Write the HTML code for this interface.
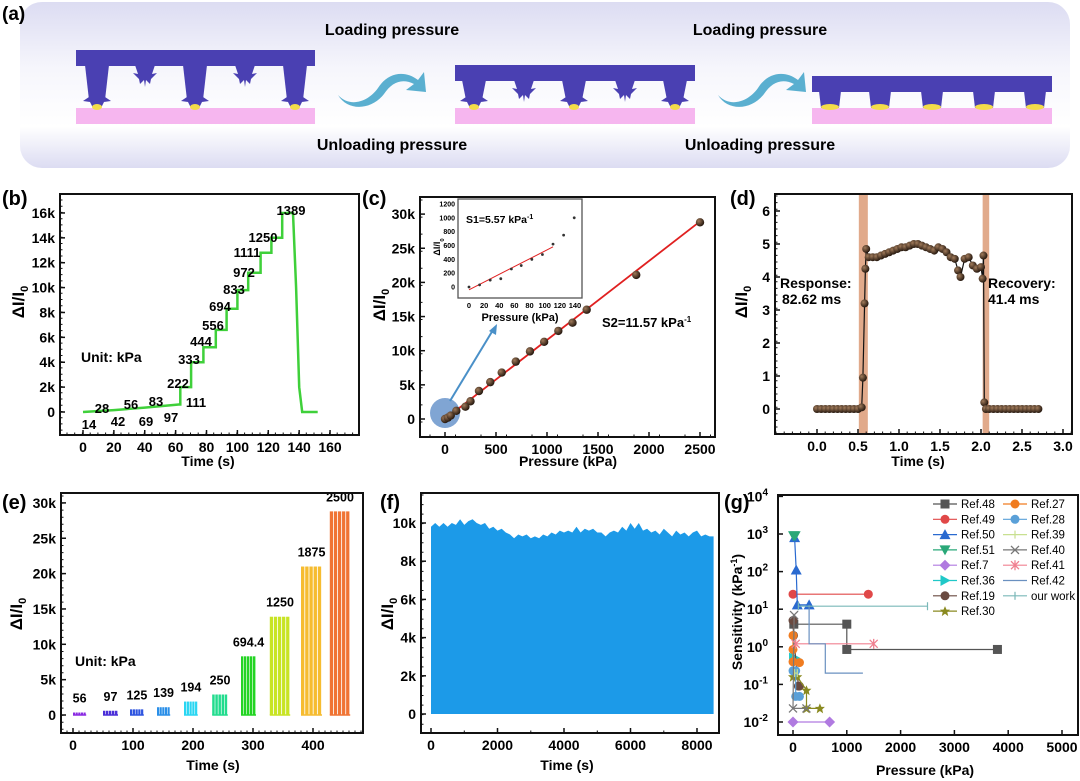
<!DOCTYPE html>
<html><head><meta charset="utf-8">
<style>
html,body{margin:0;padding:0;background:#fff;}
svg{display:block;font-family:"Liberation Sans",Arial,sans-serif;font-weight:bold;}
</style></head>
<body>
<svg id="fig" width="1080" height="781" viewBox="0 0 1080 781">
<defs>
<linearGradient id="bgA" x1="0" y1="0" x2="0" y2="1">
<stop offset="0" stop-color="#dcdcf2"/><stop offset="0.4" stop-color="#f6f6fc"/><stop offset="0.75" stop-color="#ffffff"/><stop offset="1" stop-color="#dcdcf2"/>
</linearGradient>
<radialGradient id="ball" cx="0.35" cy="0.35" r="0.7"><stop offset="0" stop-color="#a07a5a"/><stop offset="1" stop-color="#1e120a"/></radialGradient>
</defs>
<g id="panelA">
<rect x="20" y="2" width="1050" height="166" rx="22" fill="url(#bgA)"/>
<text x="2" y="20" font-size="19">(a)</text>
<text x="392" y="35" font-size="16" text-anchor="middle">Loading pressure</text>
<text x="760" y="35" font-size="16" text-anchor="middle">Loading pressure</text>
<text x="392" y="150" font-size="16" text-anchor="middle">Unloading pressure</text>
<text x="760" y="150" font-size="16" text-anchor="middle">Unloading pressure</text>
<path d="M338,95 C350,108 368,102 378,88 C388,72 405,70 418,80 L424,72 L426,92 L406,90 L414,84 C402,78 392,82 384,94 C372,110 348,112 338,95 Z" fill="#5aafd0"/>
<path d="M718,95 C730,108 748,102 758,88 C768,72 785,70 798,80 L804,72 L806,92 L786,90 L794,84 C782,78 772,82 764,94 C752,110 728,112 718,95 Z" fill="#5aafd0"/>
</g>
<g id="plots"></g>
</svg>
<script>
const NS='http://www.w3.org/2000/svg';
const svg=document.getElementById('plots');
function el(tag,attrs,name,parent){const e=document.createElementNS(NS,tag);for(const k in attrs)e.setAttribute(k,attrs[k]);


(parent||svg).appendChild(e);return e;}
function txt(x,y,s,name,size,anchor,extra){const t=el('text',Object.assign({x:x,y:y,'font-size':size||13,'text-anchor':anchor||'start'},extra||{}),name);t.textContent=s;return t;}
function frame(x0,y0,x1,y1,name){el('rect',{x:x0,y:y0,width:x1-x0,height:y1-y0,fill:'none',stroke:'#111','stroke-width':2},name);}
function xTicks(vals,labels,sx,yb,name,size){vals.forEach((v,i)=>{const x=sx(v);el('line',{x1:x,x2:x,y1:yb,y2:yb-5,stroke:'#111','stroke-width':1.5},name+'-tick');txt(x,yb+17,labels[i],name+'-label',size||14,'middle');});}
function yTicks(vals,labels,sy,xl,name,size){vals.forEach((v,i)=>{const y=sy(v);el('line',{x1:xl,x2:xl+5,y1:y,y2:y,stroke:'#111','stroke-width':1.5},name+'-tick');txt(xl-5,y+5,labels[i],name+'-label',size||14,'end');});}
function minorX(x0,x1,step,yb,name){let d='';for(let x=x0;x<=x1;x+=step)d+=`M${x.toFixed(1)},${yb} v-2.5 `;el('path',{d:d,stroke:'#111','stroke-width':1},name);}
function minorY(y0,y1,step,xl,name){let d='';for(let y=y0;y<=y1;y+=step)d+=`M${xl},${y.toFixed(1)} h2.5 `;el('path',{d:d,stroke:'#111','stroke-width':1},name);}
function dIlabel(x,y,name,size){const t=el('text',{x:x,y:y,'font-size':size||16,'text-anchor':'middle',transform:'rotate(-90 '+x+' '+y+')'},name);t.appendChild(document.createTextNode('ΔI/I'));const s=document.createElementNS(NS,'tspan');s.setAttribute('font-size',(size||16)*0.65);s.setAttribute('dy','4');s.textContent='0';t.appendChild(s);return t;}
function poly(pts,attrs,name){return el('polyline',Object.assign({points:pts.map(p=>p[0].toFixed(1)+','+p[1].toFixed(1)).join(' '),fill:'none'},attrs),name);}

/* ---------- Panel (a) structures ---------- */
(function(){
const g=document.getElementById('panelA');
const C='#4a40b2';
function struct(x0,x1,topY,longs,shorts,spiky,name){
 el('rect',{x:x0,y:topY,width:x1-x0,height:16,fill:C},name+'-top-layer',g);
 el('rect',{x:x0,y:108,width:x1-x0,height:16,fill:'#f6b6ef'},name+'-bottom-layer',g);
 longs.forEach(c=>{
  const tw=spiky?12:11, bw=spiky?7:8;
  el('path',{d:`M${c-tw},${topY+15} L${c+tw},${topY+15} L${c+bw+1},${spiky?100:108} L${c+4},${spiky?108:108} L${c-4},108 L${c-bw-1},${spiky?100:108} Z`,fill:C},name+'-pillar',g);
  if(spiky)el('path',{d:`M${c-8},${97} l-6,4 l7,1 Z M${c+8},97 l6,4 l-7,1 Z`,fill:C},name+'-spike',g);
  el('ellipse',{cx:c,cy:107,rx:spiky?5:9,ry:3,fill:'#f3dc4a'},name+'-contact',g);});
 shorts.forEach(c=>{const b=topY+24;el('path',{d:`M${c-10},${topY+15} L${c+10},${topY+15} L${c+7},${b} L${c+12},${b-1} L${c+6},${b+5} L${c+5},${b+10} L${c+1},${b+6} L${c},${b+13} L${c-1},${b+6} L${c-5},${b+10} L${c-6},${b+5} L${c-12},${b-1} L${c-7},${b} Z`,fill:C},name+'-short-pillar',g);});
}
struct(76,315,50,[97,195,295],[145,245],true,'state-1');
struct(455,695,65,[474,574,675],[524,625],true,'state-2');
struct(812,1052,76,[830,880,932,984,1035],[],false,'state-3');
})();

/* ---------- Panel (b) ---------- */
const bTime=[0,20,40,62,63,63,70,70,78,78,86,86,93,93,100,100,107,107,115,115,122,122,129,129,136,138,140,142,152];
const bVal=[0,0.15,0.35,0.6,0.6,2.0,2.0,4.0,4.0,5.2,5.2,6.6,6.6,8.3,8.3,9.8,9.8,11.2,11.2,12.8,12.8,14.0,14.0,16.0,16.0,10,2,0,0];
const bXT=[0,20,40,60,80,100,120,140,160];
const bYT=[0,2,4,6,8,10,12,14,16];
const bYL=['0','2k','4k','6k','8k','10k','12k','14k','16k'];
(function(){
const sx=t=>83+t*1.544, sy=v=>412-v*12.44;
frame(60,194,359,435,'panel-b-frame');
minorX(67,359,7.72,435,'b-x-minor-ticks');minorY(200,435,6.22,60,'b-y-minor-ticks');
xTicks(bXT,bXT.map(String),sx,435,'b-x-axis');
yTicks(bYT,bYL,sy,60,'b-y-axis');
poly(bTime.map((t,i)=>[sx(t),sy(bVal[i])]),{stroke:'#3fd03a','stroke-width':2.5},'b-response-curve');
txt(2,205,'(b)','panel-b-label',20);
dIlabel(24,302,'b-y-title',17);
txt(208,466,'Time (s)','b-x-title',14,'middle');
txt(81,362,'Unit: kPa','b-unit-label',14);
[['14',89,429],['28',102,413],['42',118,426],['56',131,409],['69',146,426],['83',156,406],['97',171,422],['111',196,407],['222',178,388],['333',189,364],['444',201,346],['556',213,330],['694',220,311],['833',234,294],['972',244,277],['1111',247,257],['1250',263,242],['1389',291,215]].forEach(a=>txt(a[1],a[2],a[0],'b-pressure-label',13,'middle'));
})();

/* ---------- Panel (c) ---------- */
const cP=[0,28,56,111,200,250,333,444,556,694,833,972,1111,1250,1389,1875,2500];
const cV=[0,0.2,0.5,1.2,1.8,2.6,4.1,5.4,6.8,8.4,9.9,11.3,12.9,14.1,16.0,21.1,28.8];
const cXT=[0,500,1000,1500,2000,2500];
const cYT=[0,5,10,15,20,25,30];
const cYL=['0','5k','10k','15k','20k','25k','30k'];
const inP=[0,14,28,42,56,69,83,97,111,125,139];
const inV=[0,30,100,120,260,310,400,470,620,750,1000];
const inXT=[0,20,40,60,80,100,120,140];
const inYT=[0,200,400,600,800,1000,1200];
(function(){
const sx=p=>445+p*0.102, sy=v=>419-v*6.83;
frame(420,197,715,437,'panel-c-frame');
minorX(430,715,5.1*5,437,'c-x-minor-ticks');minorY(200,437,6.83*2.5,420,'c-y-minor-ticks');
xTicks(cXT,cXT.map(String),sx,437,'c-x-axis');
yTicks(cYT,cYL,sy,420,'c-y-axis');
el('line',{x1:sx(0),y1:sy(0),x2:sx(2500),y2:sy(2500*11.57/1000),stroke:'#e02020','stroke-width':1.8},'c-fit-line');
el('circle',{cx:445,cy:413,r:15,fill:'#4a7fc0','fill-opacity':0.7},'c-zoom-region');
el('line',{x1:450,y1:401,x2:493,y2:330,stroke:'#4a90c8','stroke-width':2},'c-zoom-arrow');
el('path',{d:'M497,324 l-1,11 l-7,-4 z',fill:'#4a90c8'},'c-zoom-arrowhead');
cP.forEach((p,i)=>el('circle',{cx:sx(p),cy:sy(cV[i]),r:4.2,fill:'url(#ball)'},'c-data-point'));
txt(362,205,'(c)','panel-c-label',20);
dIlabel(385,305,'c-y-title',17);
txt(568,466,'Pressure (kPa)','c-x-title',14,'middle');
const s2=txt(602,327,'S2=11.57 kPa','c-s2-label',13);const sp=document.createElementNS(NS,'tspan');sp.setAttribute('dy','-5');sp.setAttribute('font-size','8');sp.textContent='-1';s2.appendChild(sp);
// inset
el('rect',{x:458,y:199,width:124,height:99,fill:'#fff',stroke:'#555','stroke-width':1.3},'c-inset-frame');
const ix=p=>469+p*0.757, iy=v=>287-v*0.0692;
inXT.forEach(v=>txt(ix(v),308,String(v),'c-inset-x-label',7.5,'middle'));
inYT.forEach(v=>txt(455,iy(v)+2.5,String(v),'c-inset-y-label',7,'end'));
el('line',{x1:ix(0),y1:iy(-40),x2:ix(111),y2:iy(580),stroke:'#e02020','stroke-width':1},'c-inset-fit-line');
inP.forEach((p,i)=>el('circle',{cx:ix(p),cy:iy(inV[i]),r:1.4,fill:'#333'},'c-inset-point'));
const s1=txt(466,223,'S1=5.57 kPa','c-s1-label',10.5);const sp1=document.createElementNS(NS,'tspan');sp1.setAttribute('dy','-4');sp1.setAttribute('font-size','7');sp1.textContent='-1';s1.appendChild(sp1);
txt(520,321,'Pressure (kPa)','c-inset-x-title',11,'middle');
dIlabel(440,247,'c-inset-y-title',9);
})();

/* ---------- Panel (d) ---------- */
const dT=[0,0.05,0.1,0.15,0.2,0.25,0.3,0.35,0.4,0.45,0.5,0.545,0.56,0.58,0.59,0.6,0.63,0.68,0.73,0.78,0.83,0.88,0.93,0.98,1.03,1.08,1.13,1.18,1.23,1.28,1.33,1.38,1.43,1.48,1.53,1.58,1.63,1.68,1.72,1.75,1.8,1.85,1.9,1.95,2.0,2.02,2.03,2.04,2.06,2.1,2.15,2.2,2.25,2.3,2.35,2.4,2.45,2.5,2.55,2.6,2.65,2.7];
const dV=[0,0,0,0,0,0,0,0,0,0,0,0.05,0.95,3.2,4.25,4.85,4.6,4.6,4.6,4.65,4.7,4.75,4.8,4.85,4.9,4.9,4.95,5.0,5.0,4.95,4.9,4.85,4.8,4.9,4.85,4.75,4.6,4.55,4.2,4.0,4.55,4.6,4.35,4.25,4.3,3.95,4.65,0.2,0,0,0,0,0,0,0,0,0,0,0,0,0,0];
const dXT=[0,0.5,1,1.5,2,2.5,3];
const dYT=[0,1,2,3,4,5,6];
(function(){
const sx=t=>817+t*82, sy=v=>409-v*33;
el('rect',{x:sx(0.51),y:194,width:sx(0.62)-sx(0.51),height:240,fill:'#d9956e','fill-opacity':0.8},'d-response-band');
el('rect',{x:sx(2.02),y:194,width:sx(2.1)-sx(2.02),height:240,fill:'#d9956e','fill-opacity':0.8},'d-recovery-band');
frame(775,194,1072,434,'panel-d-frame');
minorX(776,1072,8.2,434,'d-x-minor-ticks');minorY(196,434,6.6,775,'d-y-minor-ticks');
xTicks(dXT,dXT.map(v=>v.toFixed(1)),sx,434,'d-x-axis');
yTicks(dYT,dYT.map(String),sy,775,'d-y-axis');
poly(dT.map((t,i)=>[sx(t),sy(dV[i])]),{stroke:'#111','stroke-width':1.2},'d-response-curve');
dT.forEach((t,i)=>el('circle',{cx:sx(t),cy:sy(dV[i]),r:4,fill:'url(#ball)'},'d-data-point'));
txt(730,205,'(d)','panel-d-label',20);
dIlabel(747,302,'d-y-title',17);
txt(918,466,'Time (s)','d-x-title',14,'middle');
txt(780,288,'Response:','d-response-label',14);
txt(782,304,'82.62 ms','d-response-value',14);
txt(988,288,'Recovery:','d-recovery-label',14);
txt(988,304,'41.4 ms','d-recovery-value',14);
})();

/* ---------- Panel (e) ---------- */
const eLabels=['56','97','125','139','194','250','694.4','1250','1875','2500'];
const eStart=[0,50,95,140,185,232,280,328,380,428];
const eEnd=[22,75,118,162,208,258,305,362,415,462];
const ePeak=[0.35,0.6,0.8,1.1,1.9,2.9,8.3,13.9,21.0,28.8];
const eColors=['#8a2be2','#4b2fd8','#2f55e0','#2a8fe8','#2ad6f2','#22dc8e','#22d422','#c8e424','#f6bc30','#f07434'];
const eXT=[0,100,200,300,400];
const eYT=[0,5,10,15,20,25,30];
const eYL=['0','5k','10k','15k','20k','25k','30k'];
(function(){
const sx=t=>73+t*0.6, sy=v=>715-v*7.07;
eStart.forEach((s,i)=>{
 const n=5, w=(eEnd[i]-s)/n;
 for(let k=0;k<n;k++){const x0=sx(s+k*w), x1=sx(s+k*w+w*0.8);
  el('rect',{x:x0,y:sy(ePeak[i]),width:x1-x0,height:sy(0)-sy(ePeak[i]),fill:eColors[i]},'e-spike-'+eLabels[i]);}
 el('line',{x1:sx(s),x2:sx(eEnd[i]),y1:sy(0),y2:sy(0),stroke:eColors[i],'stroke-width':1.5},'e-baseline-'+eLabels[i]);
 txt(sx((s+eEnd[i])/2),sy(ePeak[i])-10,eLabels[i],'e-pressure-label',12.5,'middle');
});
frame(61,493,363,733,'panel-e-frame');
minorX(67,363,6,733,'e-x-minor-ticks');minorY(496,733,7.07,61,'e-y-minor-ticks');
xTicks(eXT,eXT.map(String),sx,733,'e-x-axis',14);
yTicks(eYT,eYL,sy,61,'e-y-axis',14);
txt(2,509,'(e)','panel-e-label',20);
dIlabel(22,614,'e-y-title',17);
txt(213,770,'Time (s)','e-x-title',14,'middle');
txt(75,666,'Unit: kPa','e-unit-label',14);
})();

/* ---------- Panel (f) ---------- */
const fT=[0,125,250,375,500,625,750,875,1000,1125,1250,1375,1500,1625,1750,1875,2000,2125,2250,2375,2500,2625,2750,2875,3000,3125,3250,3375,3500,3625,3750,3875,4000,4125,4250,4375,4500,4625,4750,4875,5000,5125,5250,5375,5500,5625,5750,5875,6000,6125,6250,6375,6500,6625,6750,6875,7000,7125,7250,7375,7500,7625,7750,7875,8000,8125,8250,8375,8500];
const fV=[9.8,10.0,9.8,10.0,9.8,10.0,9.9,10.2,9.9,10.1,10.2,10.0,9.9,10.0,9.7,9.8,9.6,9.7,9.5,9.4,9.2,9.4,9.3,9.4,9.2,9.3,9.2,9.4,9.3,9.5,9.4,9.6,9.5,9.6,9.5,9.8,9.5,9.7,9.6,9.7,9.5,9.5,9.3,9.5,9.6,9.5,9.8,9.6,10.0,9.7,10.0,9.6,9.7,9.5,9.6,9.4,9.7,9.5,9.3,9.6,9.4,9.5,9.3,9.5,9.6,9.3,9.4,9.3,9.3];
const fXT=[0,2000,4000,6000,8000];
const fYT=[0,2,4,6,8,10];
const fYL=['0','2k','4k','6k','8k','10k'];
(function(){
const sx=t=>431+t*0.03325, sy=v=>714-v*19.1;
const pts=fT.map((t,i)=>[sx(t),sy(fV[i])]);
el('polygon',{points:[[sx(0),sy(0)]].concat(pts,[[sx(8500),sy(0)]]).map(p=>p[0].toFixed(1)+','+p[1].toFixed(1)).join(' '),fill:'#1c9ae8'},'f-cycling-signal');
frame(421,493,719,733,'panel-f-frame');
minorX(431,719,6.65*5,733,'f-x-minor-ticks');minorY(495,733,9.55,421,'f-y-minor-ticks');
xTicks(fXT,fXT.map(String),sx,733,'f-x-axis',14);
yTicks(fYT,fYL,sy,421,'f-y-axis',14);
txt(380,509,'(f)','panel-f-label',20);
dIlabel(393,614,'f-y-title',17);
txt(567,770,'Time (s)','f-x-title',14,'middle');
})();

/* ---------- Panel (g) ---------- */
const gNames=['Ref.48','Ref.49','Ref.50','Ref.51','Ref.7','Ref.36','Ref.19','Ref.30','Ref.27','Ref.28','Ref.39','Ref.40','Ref.41','Ref.42','our work'];
const gColors=['#555555','#e04848','#2a6ad0','#2aa878','#b07ae0','#20c8c8','#6a4a40','#8a8a20','#f07c20','#5aa0d8','#c8e090','#777777','#f08090','#6a90c0','#7ab8b8'];
const gMarkers=['square','circle','triangle','down','diamond','right','circle','star','circle','circle','plus','x','asterisk','none','plus'];
const gX=[[15,1000,1000,3800],[0,1400],[30,60,80,300],[10,40],[0,680],[10,40],[0,10,100,120],[0,80,250,250,500],[0,0,0,120],[0,50,50,120],[30,80],[20,0,250],[50,1500],[300,300,600,600,1300],[100,2500]];
const gY=[[4,4,0.85,0.85],[25,25],[800,110,13,13],[900,900],[0.01,0.01],[0.5,0.5],[5,2,0.09,0.09],[0.16,0.16,0.07,0.023,0.023],[2,0.85,0.4,0.38],[0.23,0.23,0.048,0.048],[0.2,0.2],[7,0.023,0.023],[1.2,1.2],[13,1.2,1.2,0.2,0.2],[12,12]];
const gXT=[0,1000,2000,3000,4000,5000];
const gYT=[-2,-1,0,1,2,3,4];
(function(){
const sx=p=>793+p*0.0538, sy=v=>722-(Math.log10(v)+2)*37.6;
function marker(type,x,y,c,name){
 const r=4.5;
 if(type==='square')el('rect',{x:x-r,y:y-r,width:2*r,height:2*r,fill:c},name);
 else if(type==='circle')el('circle',{cx:x,cy:y,r:r,fill:c},name);
 else if(type==='triangle')el('path',{d:`M${x},${y-r-1} L${x+r+1},${y+r} L${x-r-1},${y+r} Z`,fill:c},name);
 else if(type==='down')el('path',{d:`M${x},${y+r+1} L${x+r+1},${y-r} L${x-r-1},${y-r} Z`,fill:c},name);
 else if(type==='right')el('path',{d:`M${x+r+1},${y} L${x-r},${y-r-1} L${x-r},${y+r+1} Z`,fill:c},name);
 else if(type==='diamond')el('path',{d:`M${x},${y-r-1} L${x+r+1},${y} L${x},${y+r+1} L${x-r-1},${y} Z`,fill:c},name);
 else if(type==='star')el('path',{d:`M${x},${y-5} L${x+1.5},${y-1.5} L${x+5},${y-1.5} L${x+2.3},${y+1} L${x+3.2},${y+5} L${x},${y+2.6} L${x-3.2},${y+5} L${x-2.3},${y+1} L${x-5},${y-1.5} L${x-1.5},${y-1.5} Z`,fill:c},name);
 else if(type==='x')el('path',{d:`M${x-4},${y-4} L${x+4},${y+4} M${x+4},${y-4} L${x-4},${y+4}`,stroke:c,'stroke-width':1.3},name);
 else if(type==='asterisk')el('path',{d:`M${x-4},${y-4} L${x+4},${y+4} M${x+4},${y-4} L${x-4},${y+4} M${x},${y-5} L${x},${y+5}`,stroke:c,'stroke-width':1.3},name);
 else if(type==='plus')el('path',{d:`M${x},${y-4} L${x},${y+4}`,stroke:c,'stroke-width':1.2},name);
}
gNames.forEach((n,i)=>{
 const slug=n.toLowerCase().replace(/[^a-z0-9]+/g,'-');
 poly(gX[i].map((p,k)=>[sx(p),sy(gY[i][k])]),{stroke:gColors[i],'stroke-width':1.2},'g-series-'+slug);
 gX[i].forEach((p,k)=>marker(gMarkers[i],sx(p),sy(gY[i][k]),gColors[i],'g-marker-'+slug));
 const col=i<8?0:1, row=i<8?i:i-8;
 const lx=col?1003:933, ly=504+row*15.3;
 el('line',{x1:lx,x2:lx+24,y1:ly,y2:ly,stroke:gColors[i],'stroke-width':1.2},'g-legend-line-'+slug);
 marker(gMarkers[i],lx+12,ly,gColors[i],'g-legend-marker-'+slug);
 txt(lx+28,ly+4,n,'g-legend-label',11.5,'start',{'font-weight':'normal'});
});
frame(778,495,1078,735,'panel-g-frame');
xTicks(gXT,gXT.map(String),sx,735,'g-x-axis',14);
gYT.forEach(e=>{const y=sy(Math.pow(10,e));el('line',{x1:778,x2:783,y1:y,y2:y,stroke:'#111','stroke-width':1.5},'g-y-axis-tick');
 const t=txt(768,y+5,'10','g-y-axis-label',14,'end');const s=document.createElementNS(NS,'tspan');s.setAttribute('dy','-6');s.setAttribute('font-size','10');s.textContent=String(e);t.appendChild(s);});
txt(724,509,'(g)','panel-g-label',20);
const yl=el('text',{x:742,y:612,'font-size':14,'text-anchor':'middle',transform:'rotate(-90 742 612)'},'g-y-title');
yl.appendChild(document.createTextNode('Sensitivity (kPa'));const ys=document.createElementNS(NS,'tspan');ys.setAttribute('dy','-5');ys.setAttribute('font-size','9');ys.textContent='-1';yl.appendChild(ys);
const ys2=document.createElementNS(NS,'tspan');ys2.setAttribute('dy','5');ys2.textContent=')';yl.appendChild(ys2);
txt(925,775,'Pressure (kPa)','g-x-title',14,'middle');
})();
</script>
</body></html>
